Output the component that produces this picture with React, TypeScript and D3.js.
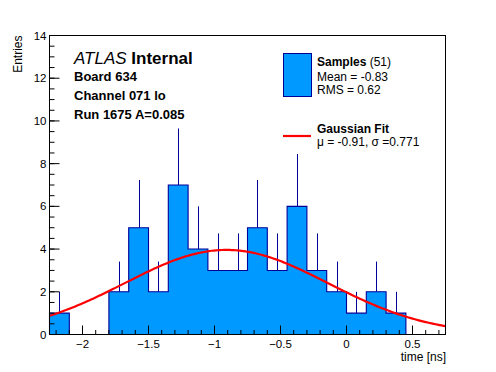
import React from 'react';
import * as d3 from 'd3';

// histogram: 20 bins of 0.15 ns starting at -2.25
const binEdges = d3.range(21).map((i) => +(-2.25 + i * 0.15).toFixed(2));
const counts = [1, 0, 0, 2, 5, 2, 7, 4, 3, 3, 5, 3, 6, 3, 2, 1, 2, 1, 0, 0];

// gaussian fit result
const fitAmp = 3.96;
const fitMu = -0.91;
const fitSigma = 0.771;

const xTicks = [-2, -1.5, -1, -0.5, 0, 0.5];
const yTicks = [0, 2, 4, 6, 8, 10, 12, 14];
const infoLines = ['Board 634', 'Channel 071 lo', 'Run 1675 A=0.085'];

const W = 496;
const H = 372;
const frame = { left: 49.5, right: 445.5, top: 35.5, bottom: 334.5 };
const font = "'Liberation Sans', Arial, Helvetica, sans-serif";
const fillBlue = '#0099ff';
const lineBlue = '#000099';

const fmt = (v: number) => (v < 0 ? '\u2212' + Math.abs(v) : String(v));

const App = () => {
  const x = d3.scaleLinear().domain([-2.25, 0.75]).range([frame.left, frame.right]);
  const y = d3.scaleLinear().domain([0, 14]).range([frame.bottom, frame.top]);

  const bins = counts.map((n, i) => ({ x0: binEdges[i], x1: binEdges[i + 1], n }));

  // outline of the filled histogram (also used as the fill shape)
  const outlinePts: [number, number][] = [[x(binEdges[0]), y(0)]];
  bins.forEach((b) => {
    outlinePts.push([x(b.x0), y(b.n)]);
    outlinePts.push([x(b.x1), y(b.n)]);
  });
  outlinePts.push([x(binEdges[binEdges.length - 1]), y(0)]);
  const outline = d3.line()(outlinePts) || '';

  const gauss = (t: number) => fitAmp * Math.exp(-((t - fitMu) ** 2) / (2 * fitSigma ** 2));
  const curvePts = d3.range(0, 201).map((i) => {
    const t = -2.25 + (i / 200) * 3;
    return [x(t), y(gauss(t))] as [number, number];
  });
  const curve = d3.line()(curvePts) || '';

  const xMinor = d3.range(-22, 8).map((i) => i / 10).filter((v) => v >= -2.25 && v <= 0.75);
  const yMinor = d3.range(0, 29).map((i) => i / 2);

  return (
    <svg
      width={W}
      height={H}
      style={{ position: 'absolute', left: 0, top: 0, background: '#fff' }}
      fontFamily={font}
    >
      <rect x={0} y={0} width={W} height={H} fill="#fff" />

      {/* error bars (only the part above the fill shows) */}
      {bins.filter((b) => b.n > 0).map((b, i) => (
        <line
          key={'e' + i}
          x1={Math.round(x((b.x0 + b.x1) / 2)) + 0.5}
          x2={Math.round(x((b.x0 + b.x1) / 2)) + 0.5}
          y1={y(b.n)}
          y2={y(b.n + Math.sqrt(b.n))}
          stroke={lineBlue}
          strokeWidth={1}
        />
      ))}

      <path d={outline} fill={fillBlue} stroke="none" />
      <path d={outline} fill="none" stroke={lineBlue} strokeWidth={1.1} />

      <path d={curve} fill="none" stroke="#ff0000" strokeWidth={2.2} />

      {/* frame */}
      <rect
        x={frame.left}
        y={frame.top}
        width={frame.right - frame.left}
        height={frame.bottom - frame.top}
        fill="none"
        stroke="#000"
        strokeWidth={1}
      />

      {/* x ticks */}
      {xMinor.map((v, i) => (
        <line key={'xm' + i} x1={x(v)} x2={x(v)} y1={frame.bottom} y2={frame.bottom - 4.5} stroke="#000" />
      ))}
      {xTicks.map((v) => (
        <g key={'xt' + v}>
          <line x1={x(v)} x2={x(v)} y1={frame.bottom} y2={frame.bottom - 9} stroke="#000" />
          <text x={x(v)} y={frame.bottom + 13.5} fontSize={11.5} textAnchor="middle">
            {fmt(v)}
          </text>
        </g>
      ))}

      {/* y ticks */}
      {yMinor.map((v, i) => (
        <line key={'ym' + i} x1={frame.left} x2={frame.left + 5} y1={y(v)} y2={y(v)} stroke="#000" />
      ))}
      {yTicks.map((v) => (
        <g key={'yt' + v}>
          <line x1={frame.left} x2={frame.left + 10} y1={y(v)} y2={y(v)} stroke="#000" />
          <text x={frame.left - 3} y={y(v) + 4} fontSize={11.5} textAnchor="end">
            {v}
          </text>
        </g>
      ))}

      {/* axis titles */}
      <text x={frame.right + 0.5} y={360.5} fontSize={12} textAnchor="end">
        time [ns]
      </text>
      <text transform={`translate(22,${frame.top}) rotate(-90)`} fontSize={12} textAnchor="end">
        Entries
      </text>

      {/* ATLAS label */}
      <text x={74} y={64} fontSize={17}>
        <tspan fontStyle="italic">ATLAS</tspan>
        <tspan fontWeight="bold"> Internal</tspan>
      </text>
      {infoLines.map((t, i) => (
        <text key={t} x={74} y={81 + i * 19} fontSize={13} fontWeight="bold">
          {t}
        </text>
      ))}

      {/* legend */}
      <rect x={283.5} y={53.5} width={28} height={43} fill={fillBlue} stroke={lineBlue} strokeWidth={1} />
      <text x={317} y={66} fontSize={12}>
        <tspan fontWeight="bold">Samples</tspan>
        <tspan> (51)</tspan>
      </text>
      <text x={317} y={81} fontSize={12}>
        Mean = -0.83
      </text>
      <text x={317} y={94} fontSize={12}>
        RMS = 0.62
      </text>
      <line x1={283} x2={311} y1={136} y2={136} stroke="#ff0000" strokeWidth={2.2} />
      <text x={317} y={133} fontSize={12} fontWeight="bold">
        Gaussian Fit
      </text>
      <text x={317} y={146} fontSize={12}>
        {'\u03bc = -0.91, \u03c3 =0.771'}
      </text>
    </svg>
  );
};

export default App;
